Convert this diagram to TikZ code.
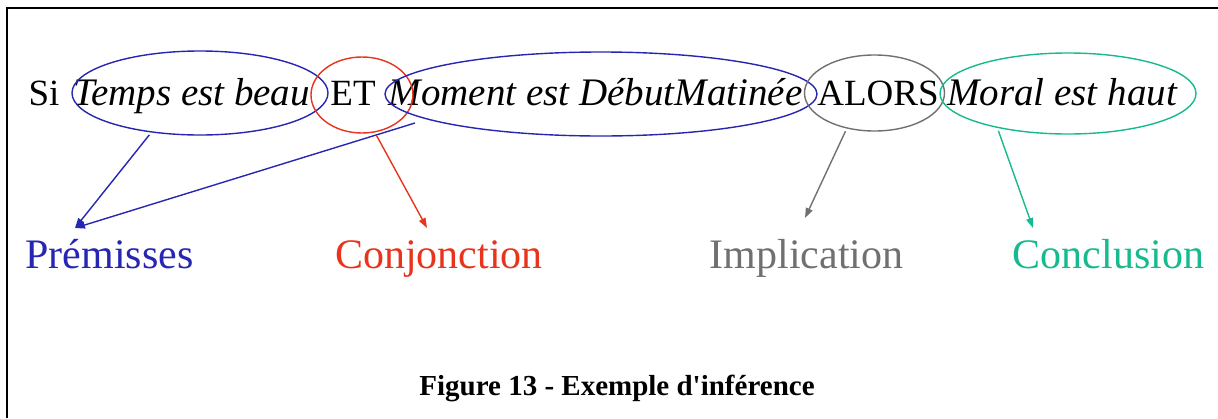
\documentclass[tikz,border=0pt]{standalone}
\usepackage{fontspec}
\setmainfont{Liberation Serif}
\usetikzlibrary{shapes.geometric,arrows.meta}

\definecolor{premblue}{RGB}{38,38,178}
\definecolor{conjred}{RGB}{232,52,28}
\definecolor{implgray}{RGB}{112,112,112}
\definecolor{conclgreen}{RGB}{22,186,142}

\tikzset{
  word/.style={inner sep=0pt, anchor=base, font=\fontsize{37}{40}\selectfont},
  itword/.style={word, font=\fontsize{39}{42}\selectfont\itshape},
  ring/.style={ellipse, draw=#1, line width=1.4pt, inner sep=0pt, fill=none},
  role/.style={inner sep=0pt, anchor=base, text=#1, font=\fontsize{42}{46}\selectfont},
  link/.style={draw=#1, line width=1.4pt, -{Triangle[length=10pt,width=7pt]}, shorten <=3pt},
}

\begin{document}
\begin{tikzpicture}[x=1pt,y=-1pt]
  \useasboundingbox (0,0) rectangle (1218,418);

  % frame (top and left edges)
  \draw[line width=1.5pt] (7,418) -- (7,8) -- (1218,8);

  % the rule, piece by piece
  \node[word]   (si)    at (44,105)   {Si};
  \node[itword] (temps) at (191.5,105){Temps est beau};
  \node[word]   (et)    at (353,105)  {ET};
  \node[itword] (mom)   at (595.5,105){Moment est DébutMatinée};
  \node[word]   (alors) at (878,105)  {ALORS};
  \node[itword] (moral) at (1062,105) {Moral est haut};

  % rings around the parts of the rule
  \node[ring=premblue, minimum width=256pt, minimum height=84pt]  (e1) at (200,93)    {};
  \node[ring=conjred,  minimum width=102pt, minimum height=76pt]  (e3) at (362,95)    {};
  \node[ring=premblue, minimum width=432pt, minimum height=84pt]  (e2) at (601,94)    {};
  \node[ring=implgray, minimum width=140pt, minimum height=76pt]  (e4) at (874.5,93)  {};
  \node[ring=conclgreen, minimum width=256pt, minimum height=81pt] (e5) at (1068,93.5) {};

  % roles
  \node[role=premblue]   (prem)  at (109.5,268) {Prémisses};
  \node[role=conjred]    (conj)  at (439,268)   {Conjonction};
  \node[role=implgray]   (impl)  at (806.5,268) {Implication};
  \node[role=conclgreen] (concl) at (1108.5,268){Conclusion};

  % arrow ends
  \coordinate (m2start) at (415,123);
  \coordinate (premtip) at (75,228);
  \coordinate (conjtip) at (427,228);
  \coordinate (impltip) at (805,218);
  \coordinate (concltip) at (1033,228);

  \draw[link=premblue]   (e1.219) -- (premtip);
  \draw[link=premblue, shorten <=0pt] (m2start) -- (premtip);
  \draw[link=conjred]    (e3.289) -- (conjtip);
  \draw[link=implgray]   (e4.232) -- (impltip);
  \draw[link=conclgreen] (e5.206) -- (concltip);

  % caption
  \node[inner sep=0pt, anchor=base, font=\fontsize{29}{32}\selectfont\bfseries]
    (cap) at (617,395) {Figure 13 - Exemple d\textquotesingle inférence};
\end{tikzpicture}
\end{document}
